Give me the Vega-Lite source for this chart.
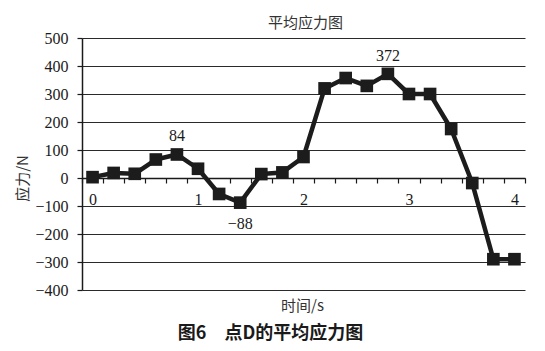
{
  "$schema": "https://vega.github.io/schema/vega-lite/v6.json",
  "width": 443,
  "height": 252,
  "autosize": {"type": "none"},
  "padding": {"left": 82, "top": 38, "right": 20, "bottom": 61},
  "background": "white",
  "title": {
    "text": "图6　点D的平均应力图",
    "orient": "bottom",
    "anchor": "middle",
    "font": "Noto Sans CJK SC",
    "fontSize": 18,
    "fontWeight": "bold",
    "color": "#1a1a1a",
    "dx": -33,
    "offset": 12
  },
  "config": {
    "view": {"stroke": null},
    "axis": {"labelFont": "Liberation Serif", "labelColor": "#1a1a1a", "titleFont": "Noto Sans CJK SC", "titleColor": "#333", "titleFontWeight": "normal"}
  },
  "data": {
    "values": [
      {"t": 0.0, "v": 3},
      {"t": 0.2, "v": 18},
      {"t": 0.4, "v": 15},
      {"t": 0.6, "v": 66},
      {"t": 0.8, "v": 84, "label": "84"},
      {"t": 1.0, "v": 33},
      {"t": 1.2, "v": -57},
      {"t": 1.4, "v": -88, "label": "−88"},
      {"t": 1.6, "v": 14},
      {"t": 1.8, "v": 20},
      {"t": 2.0, "v": 75},
      {"t": 2.2, "v": 320},
      {"t": 2.4, "v": 357},
      {"t": 2.6, "v": 329},
      {"t": 2.8, "v": 372, "label": "372"},
      {"t": 3.0, "v": 300},
      {"t": 3.2, "v": 300},
      {"t": 3.4, "v": 175},
      {"t": 3.6, "v": -18},
      {"t": 3.8, "v": -290},
      {"t": 4.0, "v": -290}
    ]
  },
  "encoding": {
    "x": {
      "field": "t",
      "type": "quantitative",
      "scale": {"domain": [-0.1, 4.1], "nice": false, "zero": false},
      "axis": null
    },
    "y": {
      "field": "v",
      "type": "quantitative",
      "scale": {"domain": [-400, 500], "nice": false},
      "axis": {
        "values": [-400, -300, -200, -100, 0, 100, 200, 300, 400, 500],
        "grid": true,
        "gridColor": "#2a2a2a",
        "gridWidth": 1.2,
        "gridOpacity": 1,
        "domainColor": "#1a1a1a",
        "domainWidth": 1.5,
        "tickColor": "#1a1a1a",
        "tickSize": 5,
        "tickWidth": 1.2,
        "labelFontSize": 16,
        "labelPadding": 9,
        "title": "应力/N",
        "titleFontSize": 15,
        "titleFontWeight": "normal",
        "titleAngle": -90,
        "titleX": -60,
        "titleY": 140,
        "titleAlign": "center",
        "titleBaseline": "middle"
      }
    }
  },
  "layer": [
    {
      "mark": {"type": "line", "color": "#1c1c1c", "strokeWidth": 4.5, "strokeJoin": "round"},
      "encoding": {
        "x": {
          "field": "t",
          "type": "quantitative",
          "scale": {"domain": [-0.1, 4.1], "nice": false, "zero": false},
          "axis": {
            "orient": "bottom",
            "offset": -112,
            "values": [-0.1, 0.1, 0.3, 0.5, 0.7, 0.9, 1.1, 1.3, 1.5, 1.7, 1.9, 2.1, 2.3, 2.5, 2.7, 2.9, 3.1, 3.3, 3.5, 3.7, 3.9, 4.1],
            "labels": false,
            "grid": false,
            "domainColor": "#1a1a1a",
            "domainWidth": 1.5,
            "tickColor": "#1a1a1a",
            "tickSize": 5,
            "tickWidth": 1.2,
            "title": "时间/s",
            "titleFontSize": 15,
            "titleFontWeight": "normal",
            "titleX": 220,
            "titleY": 127,
            "titleBaseline": "middle",
            "titleAlign": "center"
          }
        }
      }
    },
    {
      "mark": {"type": "point", "shape": "square", "filled": true, "size": 160, "color": "#1c1c1c", "opacity": 1}
    },
    {
      "transform": [{"filter": "datum.label && datum.v > 0"}],
      "mark": {"type": "text", "dy": -18, "font": "Liberation Serif", "fontSize": 16, "color": "#1a1a1a"},
      "encoding": {"text": {"field": "label"}}
    },
    {
      "transform": [{"filter": "datum.label && datum.v < 0"}],
      "mark": {"type": "text", "dy": 21, "font": "Liberation Serif", "fontSize": 16, "color": "#1a1a1a"},
      "encoding": {"text": {"field": "label"}}
    },
    {
      "data": {"values": [{"n": 0}, {"n": 1}, {"n": 2}, {"n": 3}, {"n": 4}]},
      "mark": {"type": "text", "opacity": 0},
      "encoding": {
        "x": {
          "field": "n",
          "type": "quantitative",
          "axis": {
            "orient": "bottom",
            "offset": -112,
            "values": [0, 1, 2, 3, 4],
            "ticks": false,
            "domain": false,
            "grid": false,
            "labelFontSize": 16,
            "labelPadding": 13,
            "labelFlush": false,
            "title": null
          }
        },
        "y": {"datum": 0, "type": "quantitative"},
        "text": {"field": "n"}
      }
    },
    {
      "data": {"values": [{"n": 0}]},
      "mark": {"type": "text", "opacity": 0},
      "encoding": {
        "x": {
          "field": "n",
          "type": "quantitative",
          "axis": {
            "orient": "top",
            "labels": false,
            "ticks": false,
            "domain": false,
            "grid": false,
            "title": "平均应力图",
            "titleFontSize": 15,
            "titleFontWeight": "normal",
            "titleX": 223,
            "titleY": -16,
            "titleBaseline": "middle",
            "titleAlign": "center"
          }
        },
        "y": {"datum": 0, "type": "quantitative"},
        "text": {"field": "n"}
      }
    }
  ],
  "resolve": {"axis": {"x": "independent"}}
}
